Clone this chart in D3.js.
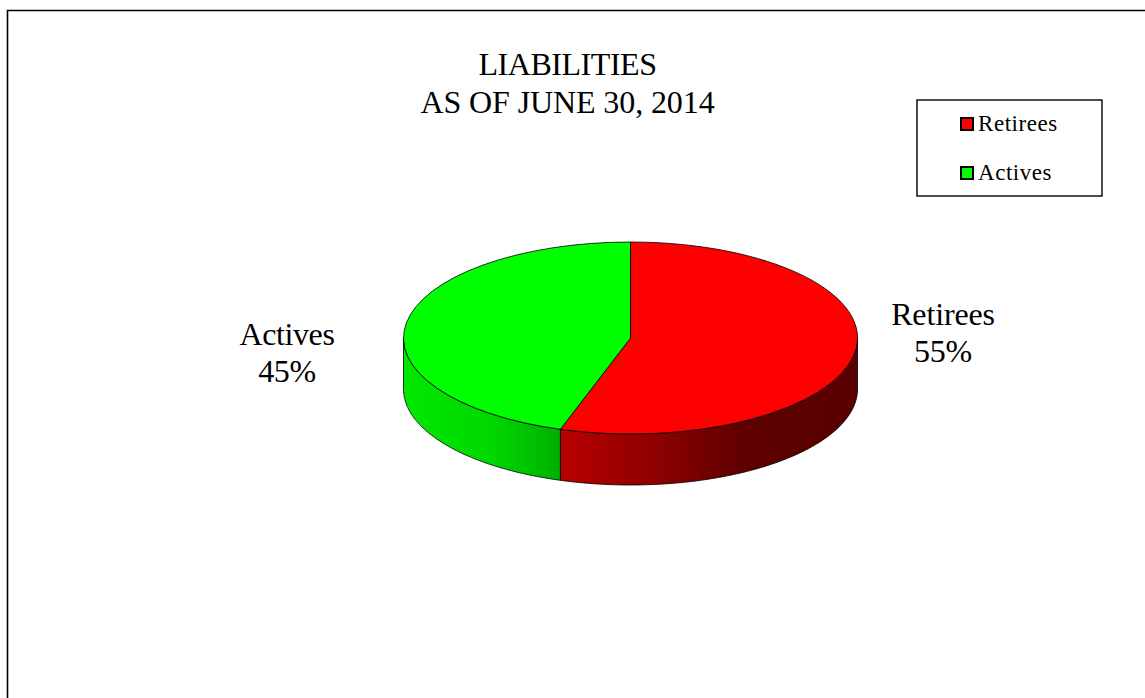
<!DOCTYPE html>
<html>
<head>
<meta charset="utf-8">
<script src="https://cdn.jsdelivr.net/npm/d3@7"></script>
<style>
  html, body { margin: 0; padding: 0; background: #fff; }
  svg { display: block; }
  text { font-family: "Liberation Serif", "Times New Roman", serif; fill: #000; }
</style>
</head>
<body>
<svg id="chart" width="1145" height="698"></svg>
<script>
// Liabilities split by member group
const categories = ["Retirees", "Actives"];
const shares = [55, 45];
const topColors = ["#ff0000", "#00ff00"];
const titleLines = ["LIABILITIES", "AS OF JUNE 30, 2014"];

const svg = d3.select("#chart");

// Sheet frame: only the top and left edges fall inside the view
svg.append("path")
  .attr("d", "M7.5,698V10.5H1145")
  .attr("fill", "none").attr("stroke", "#000").attr("stroke-width", 1.6);

svg.selectAll("text.title").data(titleLines).join("text")
  .attr("class", "title")
  .attr("x", 567.5)
  .attr("y", (d, i) => 75 + i * 38)
  .attr("text-anchor", "middle")
  .attr("font-size", 32)
  .attr("letter-spacing", (d, i) => i === 0 ? -0.45 : -0.1)
  .text(d => d);

// Tilted disc geometry
const cx = 630.5, cy = 338, rx = 227, ry = 96, depth = 51;
const pie = d3.pie().sort(null).value(d => d).startAngle(0).endAngle(2 * Math.PI);
const arcs = pie(shares);

const px = a => cx + rx * Math.sin(a);
const py = (a, drop) => cy - ry * Math.cos(a) + drop;

// Wall shading runs left to right along each visible wall
const defs = svg.append("defs");
const wallStops = [
  [[0, "#b80000"], [0.35, "#8a0000"], [0.62, "#5e0000"], [1, "#5a0000"]],
  [[0, "#00e800"], [0.55, "#00d800"], [1, "#00b000"]]
];
const visibleRange = a => {
  // the wall shows only along the front half of the rim
  const s = Math.max(a.startAngle, Math.PI / 2);
  const e = Math.min(a.endAngle, 3 * Math.PI / 2);
  return [s, e];
};
arcs.forEach((a, i) => {
  const [s, e] = visibleRange(a);
  const grad = defs.append("linearGradient")
    .attr("id", "wall" + i)
    .attr("gradientUnits", "userSpaceOnUse")
    .attr("x1", Math.min(px(s), px(e))).attr("x2", Math.max(px(s), px(e)))
    .attr("y1", 0).attr("y2", 0);
  grad.selectAll("stop").data(wallStops[i]).join("stop")
    .attr("offset", d => d[0]).attr("stop-color", d => d[1]);
});

// Side walls
const line = d3.line();
svg.selectAll("path.wall").data(arcs).join("path")
  .attr("class", "wall")
  .attr("d", a => {
    const [s, e] = visibleRange(a);
    const angles = d3.range(0, 91).map(t => s + (e - s) * t / 90);
    const rim = angles.map(t => [px(t), py(t, 0)]);
    const base = angles.slice().reverse().map(t => [px(t), py(t, depth)]);
    return line(rim.concat(base)) + "Z";
  })
  .attr("fill", (a, i) => `url(#wall${i})`)
  .attr("stroke", "#000").attr("stroke-width", 0.8).attr("stroke-linejoin", "round");

// Top face: d3.arc on a unit radius, flattened by the group transform
const arcGen = d3.arc().innerRadius(0).outerRadius(1);
svg.append("g")
  .attr("transform", `translate(${cx},${cy}) scale(${rx},${ry})`)
  .selectAll("path").data(arcs).join("path")
  .attr("d", arcGen)
  .attr("fill", (a, i) => topColors[i])
  .attr("stroke", "#000").attr("stroke-width", 0.8)
  .attr("vector-effect", "non-scaling-stroke");

// Slice labels
const labelPos = [[943, 325], [287, 345]];
const labelSpacing = [-0.15, -0.4];
categories.forEach((c, i) => {
  const t = svg.append("text")
    .attr("text-anchor", "middle").attr("font-size", 32)
    .attr("letter-spacing", labelSpacing[i]);
  t.append("tspan").attr("x", labelPos[i][0]).attr("y", labelPos[i][1]).text(c);
  t.append("tspan").attr("x", labelPos[i][0]).attr("y", labelPos[i][1] + 37).text(shares[i] + "%");
});

// Legend
svg.append("rect")
  .attr("x", 917).attr("y", 100).attr("width", 185).attr("height", 96)
  .attr("fill", "#fff").attr("stroke", "#000").attr("stroke-width", 1.4);
const rowY = [124, 173];
categories.forEach((c, i) => {
  svg.append("rect")
    .attr("x", 961).attr("y", rowY[i] - 6).attr("width", 12).attr("height", 12)
    .attr("fill", topColors[i]).attr("stroke", "#000").attr("stroke-width", 2);
  svg.append("text")
    .attr("x", 978).attr("y", rowY[i] + 7)
    .attr("font-size", 23)
    .attr("letter-spacing", 0.55)
    .text(c);
});
</script>
</body>
</html>
